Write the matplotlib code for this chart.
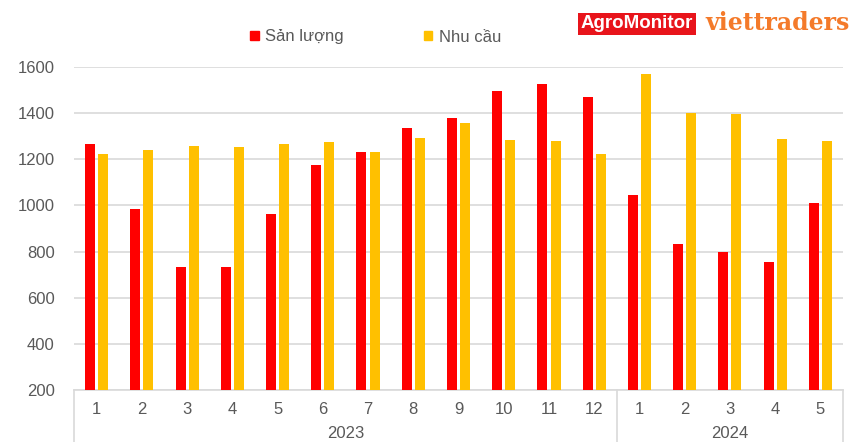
import matplotlib
matplotlib.use('Agg')
import matplotlib.pyplot as plt
from matplotlib.lines import Line2D
from matplotlib.patches import Patch
import numpy as np

# Monthly production vs demand, 2023-01 .. 2024-05
months = ['1', '2', '3', '4', '5', '6', '7', '8', '9', '10', '11', '12',
          '1', '2', '3', '4', '5']
years = ['2023', '2024']
year_sizes = [12, 5]
san_luong = [1266, 986, 733, 733, 964, 1177, 1230, 1336, 1377, 1497, 1526, 1471,
             1047, 831, 797, 755, 1012]
nhu_cau = [1224, 1242, 1256, 1253, 1266, 1275, 1230, 1292, 1357, 1285, 1281, 1223,
           1570, 1400, 1395, 1288, 1281]

RED = '#FF0000'
YELLOW = '#FFC000'
GRID = '#D9D9D9'
TXT = '#595959'

plt.rcParams['font.family'] = ['Liberation Sans', 'DejaVu Sans']

fig = plt.figure(figsize=(8.54, 4.42), dpi=100)
ax = fig.add_axes([74 / 854, 52 / 442, 769 / 854, 323 / 442])

x = np.arange(len(months))
w = 0.22
ax.bar(x - 0.145, san_luong, width=w, color=RED, label='Sản lượng', zorder=3)
ax.bar(x + 0.145, nhu_cau, width=w, color=YELLOW, label='Nhu cầu', zorder=3)

ax.set_xlim(-0.5, len(months) - 0.5)
ax.set_ylim(200, 1600)
ax.set_yticks(range(200, 1601, 200))
ax.yaxis.grid(True, color=GRID, linewidth=1.2, zorder=0)
ax.set_axisbelow(True)
for s in ['top', 'right', 'left']:
    ax.spines[s].set_visible(False)
ax.spines['bottom'].set_color(GRID)
ax.spines['bottom'].set_linewidth(1.2)

ax.set_xticks(x)
ax.set_xticklabels(months)
ax.tick_params(axis='x', length=0, pad=9, labelsize=12, colors=TXT)
ax.tick_params(axis='y', length=0, pad=14, labelsize=12, colors=TXT)

# group separators and year labels
bounds = np.concatenate([[0], np.cumsum(year_sizes)]) - 0.5
trans = ax.get_xaxis_transform()
for b in bounds:
    ax.add_line(Line2D([b, b], [0, -0.2], transform=trans, color=GRID,
                       linewidth=1.2, clip_on=False))
for i, yr in enumerate(years):
    cx = (bounds[i] + bounds[i + 1]) / 2
    ax.text(cx, -0.135, yr, transform=trans, ha='center', va='center',
            fontsize=12, color=TXT)

handles = [Patch(color=RED), Patch(color=YELLOW)]
fig.legend(handles, ['Sản lượng', 'Nhu cầu'], loc='center', ncol=2,
           bbox_to_anchor=(376 / 854, 1 - 37 / 442), frameon=False,
           fontsize=12, labelcolor=TXT, handlelength=0.5, handleheight=0.5,
           handletextpad=0.4, columnspacing=4.8)

# logos
fig.text(637 / 854, 1 - 24 / 442, 'AgroMonitor', ha='center', va='center',
         fontsize=13.5, fontweight='bold', color='white',
         bbox=dict(boxstyle='square,pad=0.15', facecolor='#E8141B', edgecolor='none'))
fig.text(778 / 854, 1 - 23 / 442, 'viettraders', ha='center', va='center',
         fontsize=17, fontweight='bold', color='#F47A2A', family='DejaVu Serif')

fig.savefig('out.png', dpi=100)
